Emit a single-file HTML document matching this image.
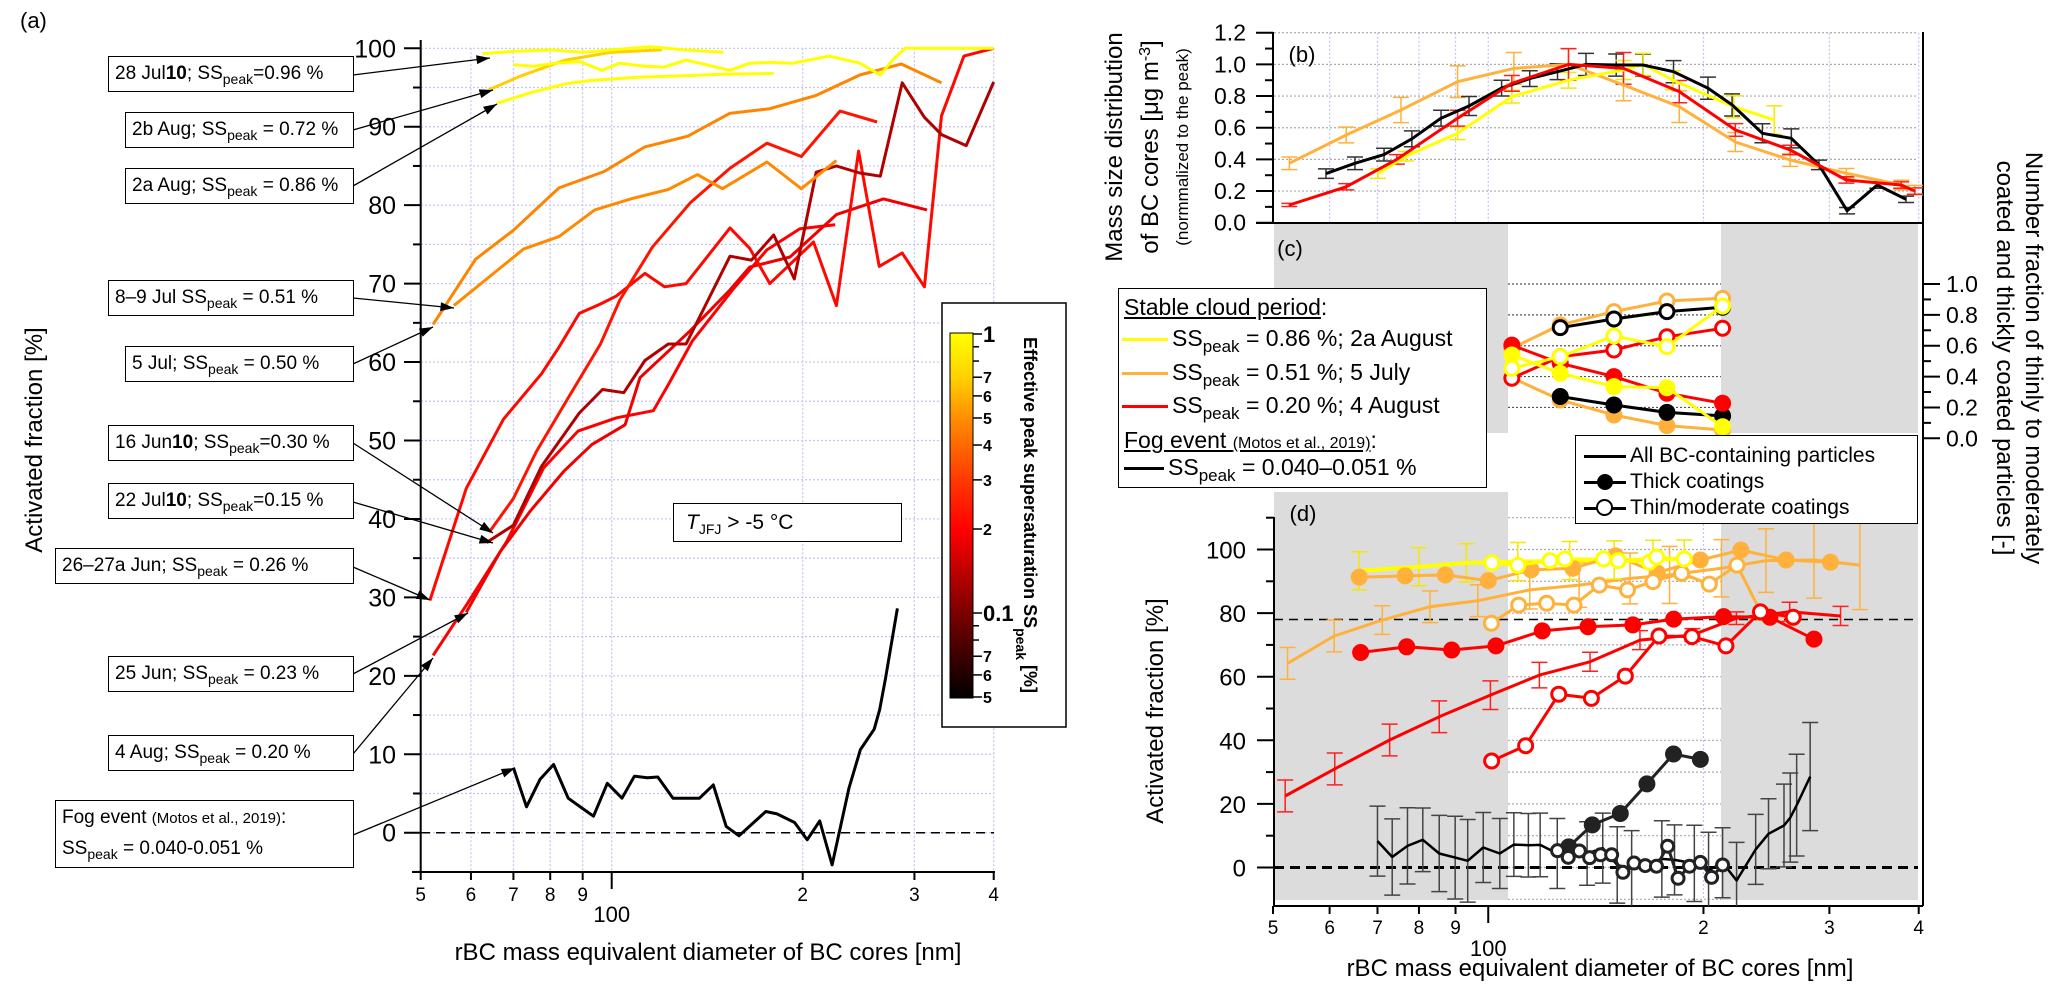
<!DOCTYPE html>
<html><head><meta charset="utf-8">
<style>
html,body{margin:0;padding:0;background:#fff;}
#root{position:relative;width:2067px;height:1008px;overflow:hidden;font-family:"Liberation Sans",sans-serif;color:#000;}
svg{position:absolute;left:0;top:0;}
.box{position:absolute;border:1.5px solid #000;background:#fff;font-size:19px;line-height:34px;height:34px;padding:0 6px;white-space:nowrap;box-sizing:content-box;}
.box sub{font-size:14px;vertical-align:-5px;line-height:0;}
.lg{position:absolute;font-size:23px;white-space:nowrap;line-height:28px;}
.lg sub{font-size:17px;vertical-align:-6px;line-height:0;}
.sw{display:inline-block;width:46px;height:3px;vertical-align:middle;margin-right:4px;}
</style></head>
<body>
<div id="root">
<svg id="chart" width="2067" height="1008">
<defs>
<clipPath id="clipA"><rect x="421" y="30" width="580" height="842"/></clipPath>
<clipPath id="clipR"><rect x="1274" y="20" width="650" height="886"/></clipPath>
<marker id="ah" viewBox="0 0 12 8" refX="12" refY="4" markerWidth="14" markerHeight="9" markerUnits="userSpaceOnUse" orient="auto"><path d="M0,0L12,4L0,8z" fill="#000"/></marker>
<linearGradient id="cbGrad" x1="0" y1="0" x2="0" y2="1">
<stop offset="0" stop-color="#ffff00"/><stop offset="0.12" stop-color="#ffd200"/><stop offset="0.23" stop-color="#ff9000"/><stop offset="0.4" stop-color="#ff3a00"/><stop offset="0.54" stop-color="#ff0000"/><stop offset="0.77" stop-color="#7a0000"/><stop offset="1" stop-color="#000000"/>
</linearGradient>
</defs>
<text x="20" y="28" font-size="22">(a)</text>
<text transform="translate(42,440) rotate(-90)" text-anchor="middle" font-size="24">Activated fraction [%]</text>
<text x="708" y="960" text-anchor="middle" font-size="24">rBC mass equivalent diameter of BC cores [nm]</text>
<text transform="translate(1122,147) rotate(-90)" text-anchor="middle" font-size="24">Mass size distribution</text>
<text transform="translate(1158,147) rotate(-90)" text-anchor="middle" font-size="24">of BC cores [μg m<tspan baseline-shift="super" font-size="16">-3</tspan>]</text>
<text transform="translate(1188,147) rotate(-90)" text-anchor="middle" font-size="17">(normmalized to the peak)</text>
<text transform="translate(2026,358) rotate(90)" text-anchor="middle" font-size="24">Number fraction of thinly to moderately</text>
<text transform="translate(1997,358) rotate(90)" text-anchor="middle" font-size="24">coated and thickly coated particles [-]</text>
<text transform="translate(1163,711) rotate(-90)" text-anchor="middle" font-size="24">Activated fraction [%]</text>
<text x="1600" y="976" text-anchor="middle" font-size="24">rBC mass equivalent diameter of BC cores [nm]</text>
</svg>

<div class="box" style="left:108px;top:56px;width:232px">28 Jul<b>10</b>; SS<sub>peak</sub>=0.96 %</div>
<div class="box" style="left:125px;top:112px;width:215px">2b Aug; SS<sub>peak</sub> = 0.72 %</div>
<div class="box" style="left:125px;top:168px;width:215px">2a Aug; SS<sub>peak</sub> = 0.86 %</div>
<div class="box" style="left:108px;top:280px;width:232px">8–9 Jul SS<sub>peak</sub> = 0.51 %</div>
<div class="box" style="left:125px;top:346px;width:215px">5 Jul; SS<sub>peak</sub> = 0.50 %</div>
<div class="box" style="left:108px;top:425px;width:232px">16 Jun<b>10</b>; SS<sub>peak</sub>=0.30 %</div>
<div class="box" style="left:108px;top:483px;width:232px">22 Jul<b>10</b>; SS<sub>peak</sub>=0.15 %</div>
<div class="box" style="left:55px;top:548px;width:285px">26–27a Jun; SS<sub>peak</sub> = 0.26 %</div>
<div class="box" style="left:108px;top:656px;width:232px">25 Jun; SS<sub>peak</sub> = 0.23 %</div>
<div class="box" style="left:108px;top:735px;width:232px">4 Aug; SS<sub>peak</sub> = 0.20 %</div>
<div class="box" style="left:55px;top:800px;width:285px;height:64px;line-height:30px;padding-top:2px">Fog event <span style="font-size:15px">(Motos et al., 2019)</span>:<br>SS<sub>peak</sub> = 0.040-0.051 %</div>

<div class="box" style="left:673px;top:503px;width:209px;height:37px;line-height:37px;font-size:21px;padding-left:12px"><i>T</i><sub>JFJ</sub> &gt; -5 °C</div>

<div style="position:absolute;left:1118px;top:288px;width:367px;height:198px;border:1.5px solid #000;background:#fff"></div>
<div class="lg" style="left:1124px;top:293px"><u>Stable cloud period</u>:</div>
<div class="lg" style="left:1122px;top:324px"><span class="sw" style="background:#ffff00"></span>SS<sub>peak</sub> = 0.86 %; 2a August</div>
<div class="lg" style="left:1122px;top:358px"><span class="sw" style="background:#ffb13b"></span>SS<sub>peak</sub> = 0.51 %; 5 July</div>
<div class="lg" style="left:1122px;top:391px"><span class="sw" style="background:#ff0000"></span>SS<sub>peak</sub> = 0.20 %; 4 August</div>
<div class="lg" style="left:1124px;top:426px"><u>Fog event <span style="font-size:16px">(Motos et al., 2019)</span></u>:</div>
<div class="lg" style="left:1124px;top:453px"><span class="sw" style="background:#000;width:40px"></span>SS<sub>peak</sub> = 0.040–0.051 %</div>

<div style="position:absolute;left:1575px;top:435px;width:341px;height:87px;border:1.5px solid #000;background:#fff"></div>
<div class="lg" style="left:1584px;top:442px;font-size:21px"><span class="sw" style="background:#000;width:42px"></span>All BC-containing particles</div>
<div class="lg" style="left:1584px;top:468px;font-size:21px"><span style="display:inline-block;width:42px;height:3px;background:#000;vertical-align:middle;position:relative;margin-right:4px"><span style="position:absolute;left:13px;top:-7px;width:16px;height:16px;border-radius:50%;background:#000"></span></span>Thick coatings</div>
<div class="lg" style="left:1584px;top:494px;font-size:21px"><span style="display:inline-block;width:42px;height:3px;background:#000;vertical-align:middle;position:relative;margin-right:4px"><span style="position:absolute;left:12px;top:-8px;width:13px;height:13px;border-radius:50%;background:#fff;border:2.5px solid #000"></span></span>Thin/moderate coatings</div>

<script>
// ---------------- DATA: panel (a) ----------------
const jul28aD=[62.5,70,80,90,100,115,130,150];
const jul28aP=[99.3,99.6,99.8,99.5,99.8,100.2,99.8,99.5];
const jul28bD=[70,75.3,81.6,89,96.5,103,112.8,121,131,153.6,165,177.5,193,220,246,265,277,290,400];
const jul28bP=[97.9,97.7,98.1,98.3,97.2,98.1,97.7,97.6,98.5,97.2,98.1,98.2,98.1,99,98.1,96.6,98.5,100,100];
const aug2bD=[64,72,84.5,100,120];
const aug2bP=[94.7,96.5,98.5,99.5,99.8];
const aug2aD=[66,75,85,92.5,110,130,150,180];
const aug2aP=[93,94.4,95.5,95.9,96.3,96.5,96.7,96.8];
const jul5D=[52.3,61,70,82.6,97.3,112.6,131.8,153.4,177.5,210,246,286,331];
const jul5P=[64.8,73.1,76.8,82.2,84.3,87.4,88.8,91.7,92.3,94,96.6,98,95.6];
const jul89D=[56.4,72.6,82.6,94,108.3,122.8,136.5,149.5,175.6,199,226];
const jul89P=[67.2,74.4,76,79.4,80.9,82,83.9,82.1,85.5,82.1,85.7];
const jun16D=[64.1,70,76.1,85.5,96,103,116,133,153.6,175.6,199,229,262];
const jun16P=[38.3,42.6,48.6,55.5,62.3,67.9,74.7,80.3,84.7,87.9,86.2,92,90.6];
const jul22D=[63.5,70,77.5,88.9,96.7,104.5,112.8,122.8,131,153.6,166,180,194,210,226,246,265,287,311,331,362,400];
const jul22P=[37,39.2,46.7,53.5,56.5,56.1,60.2,62.3,62.3,73.5,73,76.2,70.6,84.2,85,84.1,83.7,95.6,91.2,89,87.6,95.7];
const jun26D=[51.7,59,67.5,77.5,82.6,88.9,96,101.6,112.8,121.1,131,153.6,165,177.5,208,226,245,264,287,311,331,359,400];
const jun26P=[29.6,43.9,52.7,58.5,61.9,66.2,67.4,68.4,71.3,69.6,70,77.1,74.5,70,75.3,67.2,86.9,72.2,73.9,69.6,91.4,99,100];
const jun25D=[59,66.7,74.4,84.1,93.1,105,110.8,133,153.6,165,191,226,268,314];
const jun25P=[28.1,35.8,41,46.1,49.5,52,58,64,69.2,72.1,73.4,78.8,80.8,79.4];
const aug4D=[52.3,59,68.3,78.1,88.5,101.8,116.3,123,134,155,175.6,198,225];
const aug4P=[22.6,29,37.1,46.5,51.2,52.9,53.8,57.2,62.7,69.2,74.3,77,77.5];
const fogD=[70,73.4,77.1,81,85.4,89.9,93.6,98.4,103.8,108.6,113.8,118.2,124.9,137.5,144.6,151.5,158.7,174.9,182.2,194.2,203.3,212.7,222.5,236.6,246.6,259.2,264.5,270,282];
const fogP=[8.3,3.3,6.8,8.7,4.4,3.1,2.1,6.3,4.4,7.2,7,7.1,4.4,4.4,6.1,0.8,-0.4,2.7,2.4,1.3,-0.9,1.5,-4.1,5.7,10.6,13.2,15.7,19.6,28.6];
const fogErr=[11,12,12,10,12,13,13,11,11,10,10,10,11,10,11,12,12,12,11,12,12,11,12,11,11,13,14,16,17];
const aYTicks=[0,10,20,30,40,50,60,70,80,90,100];
const xMinorTicks=[50,60,70,80,90,200,300,400];
const xMinorLabels=['5','6','7','8','9','2','3','4'];
const cbTicks=[1,0.9,0.8,0.7,0.6,0.5,0.4,0.3,0.2,0.1,0.09,0.08,0.07,0.06,0.05];
const cbLabels=['1','','','7','6','5','4','3','2','0.1','','','7','6','5'];
// ---------------- DATA: panel (b) ----------------
const bOrangeD=[52.7,63.3,75.5,90.6,108.6,129.5,154.6,185,221.6,264.4,316.9,378.3,395];
const bOrangeV=[0.375,0.554,0.712,0.891,0.975,1.0,0.87,0.733,0.51,0.396,0.312,0.238,0.206];
const bOrangeE=[0.04,0.05,0.08,0.1,0.1,0.1,0.1,0.1,0.06,0.04,0.03,0.03,0.03];
const bRedD=[52.7,63.3,74.5,90.6,107.9,129.5,154.6,185,221.6,264.4,316.9,378,395];
const bRedV=[0.112,0.227,0.4,0.66,0.88,1.0,0.975,0.828,0.586,0.459,0.27,0.238,0.2];
const bRedE=[0.01,0.02,0.03,0.05,0.05,0.1,0.1,0.07,0.04,0.03,0.02,0.02,0.02];
const bBlackD=[59.3,65.1,71.5,78.2,85.9,94,104.4,114.3,125,137,151,164.6,181.6,202.9,219.3,241.8,265.4,290.1,317.6,350.1,384];
const bBlackV=[0.31,0.375,0.43,0.53,0.66,0.737,0.85,0.91,0.954,1.0,0.996,0.996,0.954,0.85,0.744,0.565,0.533,0.365,0.076,0.238,0.148];
const bBlackE=[0.03,0.04,0.04,0.05,0.05,0.06,0.05,0.05,0.05,0.07,0.07,0.07,0.07,0.07,0.07,0.06,0.06,0.03,0.02,0.02,0.02];
const bYellowD=[70.1,76.7,90.6,107.9,129.5,154.6,164.7,181.3,220.5,251.3];
const bYellowV=[0.31,0.42,0.565,0.796,0.9,0.965,1.0,0.9,0.733,0.648];
const bYellowE=[0.03,0.03,0.04,0.04,0.05,0.06,0.07,0.06,0.07,0.09];
const bYTicks=[0,0.2,0.4,0.6,0.8,1.0,1.2];
const bYLabels=['0.0','0.2','0.4','0.6','0.8','1.0','1.2'];
// ---------------- DATA: panel (c) ----------------
const cD=[107.9,126.1,149.9,177.8,212.7];
const cOrangeThin=[0.583,0.735,0.821,0.89,0.907];
const cOrangeThick=[0.393,0.249,0.151,0.082,0.054];
const cBlackThin=[null,0.717,0.773,0.821,0.849];
const cBlackThick=[null,0.271,0.216,0.168,0.145];
const cRedThin=[0.389,0.529,0.572,0.658,0.713];
const cRedThick=[0.604,0.486,0.4,0.292,0.227];
const cYellowThin=[0.454,0.529,0.663,0.594,0.857];
const cYellowThick=[0.54,0.421,0.335,0.328,0.075];
const cYTicks=[0,0.2,0.4,0.6,0.8,1.0];
const cYLabels=['0.0','0.2','0.4','0.6','0.8','1.0'];
// ---------------- DATA: panel (d) ----------------
const dYellowD=[66,80,93.2,110,130,150,170,188];
const dYellowP=[93.3,94.6,95.8,96.2,96.5,96.7,96.9,97];
const dYellowE=[6,6,6,6,6,6,6,6];
const dYellowThinD=[101.2,110,122,128,145,152,168,172,188];
const dYellowThinP=[95.8,95,96.5,97,97,96.5,96,97.6,97];
const dOrangeD=[52.4,60.9,71.1,82.9,96.7,114.3,134,157.9,179.3,211.9,244.6,285.5,331];
const dOrangeP=[64.2,72.8,77.8,82,83.9,87.3,88.8,90.9,92,94.1,96.5,96.7,95.1];
const dOrangeE=[5,5,4.5,5,5,6,7,8,9,9,10,12,14];
const dOrangeThickD=[66,76.5,87.1,100,114.8,131.3,150.7,172.3,198,225.6,261,301];
const dOrangeThickP=[91.3,91.7,92,90.2,93.6,94.1,98,92.7,96.7,99.8,96.7,96];
const dOrangeThinD=[101,110.3,120.7,131.8,143,156.6,170,186.4,203.8,222.8,240.8,267];
const dOrangeThinP=[76.8,82.5,83.1,82.5,88.8,87.3,89.9,92.5,89.1,95.1,80.1,78.6];
const dRedD=[52,61,72.8,85.4,100.7,117.9,138.8,163,193,222.4,264,311];
const dRedP=[22.5,31,40.1,47.4,54.2,60.5,64.7,71.5,73.1,78.4,80.4,79.1];
const dRedE=[5,5,5,5,4.5,4,3,3,2,2,3,3];
const dRedThickD=[66.3,76.9,88.9,102.5,119,137.9,159.3,181.7,213.4,247.7,285.5];
const dRedThickP=[67.6,69.4,68.4,69.7,74.4,75.7,76.3,78.1,78.9,78.7,71.8];
const dRedThinD=[101.1,112.8,125.5,139.4,155.5,173.3,192.7,215,240.3,267];
const dRedThinP=[33.5,38.3,54.5,53.2,60.2,72.8,72.6,69.7,80.4,78.7];
const dBlackThickD=[129.6,139.8,153,166.7,181.6,198];
const dBlackThickP=[6.5,13.4,17,26.3,35.7,34];
const dBlackThinD=[125,129.4,134.1,138.6,143.6,148.8,154.3,159.9,165.8,171.9,178.2,184.3,191.2,198,205.3,212.7];
const dBlackThinP=[5.3,3.2,5.2,3.1,4,4,-1.5,1.4,0.6,0.4,6.7,-3.4,0.4,1.6,-3.1,0.8];
const dYTicks=[0,20,40,60,80,100];

// ---------------- axes ----------------
const xa=d=>420.7+634.5*Math.log10(d/50);
const ya=p=>832.7-7.844*p;
const xr=d=>1273+715*Math.log10(d/50);
const yb=v=>222.7-158.3*v;
const yc=v=>438.3-154.3*v;
const yd=p=>867.5-3.18*p;
const ycb=v=>334-279*Math.log10(v);

const NS='http://www.w3.org/2000/svg';
const svg=document.getElementById('chart');
function el(tag,attrs,parent){const e=document.createElementNS(NS,tag);for(const k in attrs)e.setAttribute(k,attrs[k]);(parent||svg).appendChild(e);return e;}
function drawLine(ds,vs,fx,fy,color,w,name,parent){
  let s='';
  ds.forEach((d,i)=>{if(vs[i]==null)return;s+=(s?'L':'M')+fx(d).toFixed(1)+','+fy(vs[i]).toFixed(1);});
  const p=el('path',{d:s,fill:'none',stroke:color,'stroke-width':w,'stroke-linejoin':'round'},parent);
  
  
  return p;
}
function drawErr(ds,vs,es,fx,fy,color,name,parent){
  const g=el('g',{stroke:color,'stroke-width':1.5,fill:'none'},parent);
  
  
  ds.forEach((d,i)=>{
    const x=fx(d),y1=fy(vs[i]-es[i]),y2=fy(vs[i]+es[i]);
    el('path',{d:`M${x},${y1}L${x},${y2}M${x-8},${y1}L${x+8},${y1}M${x-8},${y2}L${x+8},${y2}`},g);
  });
}
function drawMarkers(ds,vs,fx,fy,color,filled,r,name,parent){
  const g=el('g',{},parent);
  
  
  ds.forEach((d,i)=>{
    if(vs[i]==null)return;
    const c=el('circle',{cx:fx(d),cy:fy(vs[i]),r:r,fill:filled?color:'#fff',stroke:color,'stroke-width':filled?1:3},g);
    
    
  });
}
function txt(x,y,s,size,anchor,parent,extra){
  const t=el('text',Object.assign({x:x,y:y,'font-size':size,'text-anchor':anchor||'middle'},extra||{}),parent);
  t.textContent=s;return t;
}

// ---------------- panel (a) ----------------
const gA=el('g',{});


const gridA=el('g',{stroke:'#c4c4f4','stroke-width':1.2,'stroke-dasharray':'2,2'},gA);
for(let p=-5;p<=100;p+=5){el('line',{x1:421,x2:994,y1:ya(p),y2:ya(p)},gridA);}
[50,60,70,80,90,100,200,300,400].forEach(d=>{el('line',{x1:xa(d),x2:xa(d),y1:ya(100),y2:871},gridA);});
el('line',{x1:421,x2:994,y1:ya(0),y2:ya(0),stroke:'#000','stroke-width':1.5,'stroke-dasharray':'9,6'},gA);
const axA=el('g',{stroke:'#000','stroke-width':2},gA);
el('line',{x1:420.7,x2:420.7,y1:40,y2:872},axA);
el('line',{x1:412,x2:995,y1:872,y2:872},axA);
for(let p=-5;p<=100;p+=5){const maj=p%10===0;el('line',{x1:maj?404:413,x2:420.7,y1:ya(p),y2:ya(p)},axA);}
aYTicks.forEach(p=>{const t=txt(396,ya(p)+9,String(p),25,'end',gA);});
xMinorTicks.forEach((d,i)=>{el('line',{x1:xa(d),x2:xa(d),y1:872,y2:880},axA);const t=txt(xa(d),901,xMinorLabels[i],19,'middle',gA);});
el('line',{x1:xa(100),x2:xa(100),y1:872,y2:889},axA);
const t100a=txt(xa(100),922,'100',22,'middle',gA);



const linesA=el('g',{'clip-path':'url(#clipA)'},gA);
drawLine(fogD,fogP,xa,ya,'#000',3,'fog-line',linesA);
drawLine(aug4D,aug4P,xa,ya,'#ff0000',3,'line-4-aug',linesA);
drawLine(jun25D,jun25P,xa,ya,'#f00000',3,'line-25-jun',linesA);
drawLine(jun26D,jun26P,xa,ya,'#ff0800',3,'line-26-27a-jun',linesA);
drawLine(jul22D,jul22P,xa,ya,'#b00000',3,'line-22-jul',linesA);
drawLine(jun16D,jun16P,xa,ya,'#ff1400',3,'line-16-jun',linesA);
drawLine(jul89D,jul89P,xa,ya,'#ff8a00',3,'line-8-9-jul',linesA);
drawLine(jul5D,jul5P,xa,ya,'#ff8400',3,'line-5-jul',linesA);
drawLine(aug2aD,aug2aP,xa,ya,'#ffff00',3,'line-2a-aug',linesA);
drawLine(aug2bD,aug2bP,xa,ya,'#ffd000',3,'line-2b-aug',linesA);
drawLine(jul28bD,jul28bP,xa,ya,'#ffff00',3,'line-28-jul-b',linesA);
drawLine(jul28aD,jul28aP,xa,ya,'#ffff00',3,'line-28-jul',linesA);

const arrows=el('g',{stroke:'#000','stroke-width':1.3,'marker-end':'url(#ah)'},gA);


[[353,75,490,58],[353,130,493,90],[353,186,497,104],[353,298,454,308],[353,364,433,327],[353,443,493,533],[353,502,493,543],[353,567,430,600],[353,674,468,613],[353,754,433,658],[353,835,515,768]].forEach(a=>{
  el('line',{x1:a[0],y1:a[1],x2:a[2],y2:a[3]},arrows);
});

// colorbar
const gCB=el('g',{});


el('rect',{x:942,y:303,width:124,height:424,fill:'#fff',stroke:'#000','stroke-width':1.5},gCB);
el('rect',{x:950,y:333,width:23,height:365,fill:'url(#cbGrad)',stroke:'#000','stroke-width':1},gCB);
cbTicks.forEach((v,i)=>{
  const y=ycb(v);const lab=cbLabels[i];
  el('line',{x1:973,x2:lab?982:979,y1:y,y2:y,stroke:'#000','stroke-width':1.5},gCB);
  if(lab){const big=(lab==='1'||lab==='0.1');const t=txt(983,y+(big?8:6),lab,big?22:16,'start',gCB,{'font-weight':'bold'});}
});
const cbt=el('text',{transform:'translate(1024,515) rotate(90)','text-anchor':'middle','font-size':18,'font-weight':'bold'},gCB);
cbt.innerHTML='Effective peak supersaturation SS<tspan baseline-shift="sub" font-size="14">peak</tspan> [%]';



// ---------------- right panels ----------------
const gR=el('g',{});


el('rect',{x:1274,y:223,width:234,height:210,fill:'#dcdcdc'},gR);
el('rect',{x:1721,y:223,width:197,height:210,fill:'#dcdcdc'},gR);
el('rect',{x:1274,y:492,width:234,height:408,fill:'#dcdcdc'},gR);
el('rect',{x:1721,y:492,width:197,height:408,fill:'#dcdcdc'},gR);
const gridR=el('g',{stroke:'#c4c4f4','stroke-width':1.2,'stroke-dasharray':'2,2'},gR);
[50,60,70,80,90,100,200,300,400].forEach(d=>{el('line',{x1:xr(d),x2:xr(d),y1:yb(1.2),y2:yb(0)},gridR);});
bYTicks.forEach(v=>{el('line',{x1:1274,x2:1918,y1:yb(v),y2:yb(v),stroke:'#aaa'},gridR);});
cYTicks.slice(1).forEach(v=>{el('line',{x1:1508,x2:1721,y1:yc(v),y2:yc(v),stroke:'#555'},gridR);});
for(let p=-10;p<=110;p+=10){el('line',{x1:1508,x2:1721,y1:yd(p),y2:yd(p),stroke:'#aaa'},gridR);}
el('line',{x1:xr(200),x2:xr(200),y1:492,y2:900},gridR);
el('line',{x1:1274,x2:1918,y1:yd(78),y2:yd(78),stroke:'#000','stroke-width':1.5,'stroke-dasharray':'9,6'},gR);
el('line',{x1:1274,x2:1918,y1:yd(0),y2:yd(0),stroke:'#000','stroke-width':3,'stroke-dasharray':'10,6'},gR);
const axR=el('g',{stroke:'#000','stroke-width':2},gR);
el('line',{x1:1273,x2:1273,y1:32,y2:223},axR);
el('line',{x1:1256,x2:1923,y1:223,y2:223},axR);
el('line',{x1:1923,x2:1923,y1:32,y2:906},axR);
el('line',{x1:1274,x2:1274,y1:517,y2:906},axR);
el('line',{x1:1274,x2:1923,y1:906,y2:906},axR);
for(let v=0;v<=1.21;v+=0.1){const maj=Math.round(v*10)%2===0;el('line',{x1:maj?1256:1265,x2:1273,y1:yb(v),y2:yb(v)},axR);}
bYTicks.forEach((v,i)=>{const t=txt(1246,yb(v)+8,bYLabels[i],23,'end',gR);});
for(let v=0;v<=1.01;v+=0.1){const maj=Math.round(v*10)%2===0;el('line',{x1:1923,x2:maj?1940:1931,y1:yc(v),y2:yc(v)},axR);}
cYTicks.forEach((v,i)=>{const t=txt(1946,yc(v)+8,cYLabels[i],23,'start',gR);});
for(let p=0;p<=110;p+=10){const maj=p%20===0;el('line',{x1:maj?1257:1266,x2:1274,y1:yd(p),y2:yd(p)},axR);}
dYTicks.forEach(p=>{const t=txt(1246,yd(p)+9,String(p),24,'end',gR);});
xMinorTicks.forEach((d,i)=>{el('line',{x1:xr(d),x2:xr(d),y1:906,y2:914},axR);const t=txt(xr(d),934,xMinorLabels[i],19,'middle',gR);});
el('line',{x1:xr(100),x2:xr(100),y1:906,y2:923},axR);
const t100d=txt(xr(100),956,'100',22,'middle',gR);


txt(1302,62,'(b)',22,'middle',gR);
txt(1290,256,'(c)',22,'middle',gR);
txt(1303,521,'(d)',22,'middle',gR);

const dataR=el('g',{'clip-path':'url(#clipR)'},gR);
drawErr(bOrangeD,bOrangeV,bOrangeE,xr,yb,'#ffb13b','b-orange-errors',dataR);
drawErr(bBlackD,bBlackV,bBlackE,xr,yb,'#333','b-black-errors',dataR);
drawErr(bYellowD,bYellowV,bYellowE,xr,yb,'#f4e800','b-yellow-errors',dataR);
drawErr(bRedD,bRedV,bRedE,xr,yb,'#ff2020','b-red-errors',dataR);
drawLine(bOrangeD,bOrangeV,xr,yb,'#ffb13b',3,'b-orange-line',dataR);
drawLine(bYellowD,bYellowV,xr,yb,'#ffff00',3,'b-yellow-line',dataR);
drawLine(bBlackD,bBlackV,xr,yb,'#000',3,'b-black-line',dataR);
drawLine(bRedD,bRedV,xr,yb,'#ff0000',3,'b-red-line',dataR);
[[cOrangeThick,'#ffb13b',true,'c-orange-thick'],[cOrangeThin,'#ffb13b',false,'c-orange-thin'],[cBlackThick,'#000',true,'c-black-thick'],[cBlackThin,'#000',false,'c-black-thin'],[cRedThick,'#ff0000',true,'c-red-thick'],[cRedThin,'#ff0000',false,'c-red-thin'],[cYellowThick,'#ffff00',true,'c-yellow-thick'],[cYellowThin,'#ffff00',false,'c-yellow-thin']].forEach(s=>{
  drawLine(cD,s[0],xr,yc,s[1],3,s[3]+'-line',dataR);
  drawMarkers(cD,s[0],xr,yc,s[1],s[2],s[2]?8:7,s[3],dataR);
});
drawErr(fogD,fogP,fogErr,xr,yd,'#444','d-black-errors',dataR);
drawLine(fogD,fogP,xr,yd,'#000',2.5,'d-black-all-line',dataR);
drawErr(dOrangeD,dOrangeP,dOrangeE,xr,yd,'#ffb13b','d-orange-errors',dataR);
drawLine(dOrangeD,dOrangeP,xr,yd,'#ffb13b',3,'d-orange-all-line',dataR);
drawErr(dRedD,dRedP,dRedE,xr,yd,'#ff2020','d-red-errors',dataR);
drawLine(dRedD,dRedP,xr,yd,'#ff0000',3,'d-red-all-line',dataR);
drawErr(dYellowD,dYellowP,dYellowE,xr,yd,'#f4e800','d-yellow-errors',dataR);
drawLine(dYellowD,dYellowP,xr,yd,'#ffff00',4,'d-yellow-all-line',dataR);
drawLine(dOrangeThickD,dOrangeThickP,xr,yd,'#ffb13b',3,'d-orange-thick-line',dataR);
drawMarkers(dOrangeThickD,dOrangeThickP,xr,yd,'#ffb13b',true,8,'d-orange-thick',dataR);
drawLine(dOrangeThinD,dOrangeThinP,xr,yd,'#ffb13b',3,'d-orange-thin-line',dataR);
drawMarkers(dOrangeThinD,dOrangeThinP,xr,yd,'#ffb13b',false,7,'d-orange-thin',dataR);
drawLine(dYellowThinD,dYellowThinP,xr,yd,'#ffff00',3,'d-yellow-thin-line',dataR);
drawMarkers(dYellowThinD,dYellowThinP,xr,yd,'#ffff00',false,7,'d-yellow-thin',dataR);
drawLine(dRedThickD,dRedThickP,xr,yd,'#ff0000',3,'d-red-thick-line',dataR);
drawMarkers(dRedThickD,dRedThickP,xr,yd,'#ff0000',true,8,'d-red-thick',dataR);
drawLine(dRedThinD,dRedThinP,xr,yd,'#ff0000',3,'d-red-thin-line',dataR);
drawMarkers(dRedThinD,dRedThinP,xr,yd,'#ff0000',false,7,'d-red-thin',dataR);
drawLine(dBlackThickD,dBlackThickP,xr,yd,'#222',3,'d-black-thick-line',dataR);
drawMarkers(dBlackThickD,dBlackThickP,xr,yd,'#222',true,8,'d-black-thick',dataR);
drawLine(dBlackThinD,dBlackThinP,xr,yd,'#222',3,'d-black-thin-line',dataR);
drawMarkers(dBlackThinD,dBlackThinP,xr,yd,'#222',false,6,'d-black-thin',dataR);
</script>
</div>
</body></html>
